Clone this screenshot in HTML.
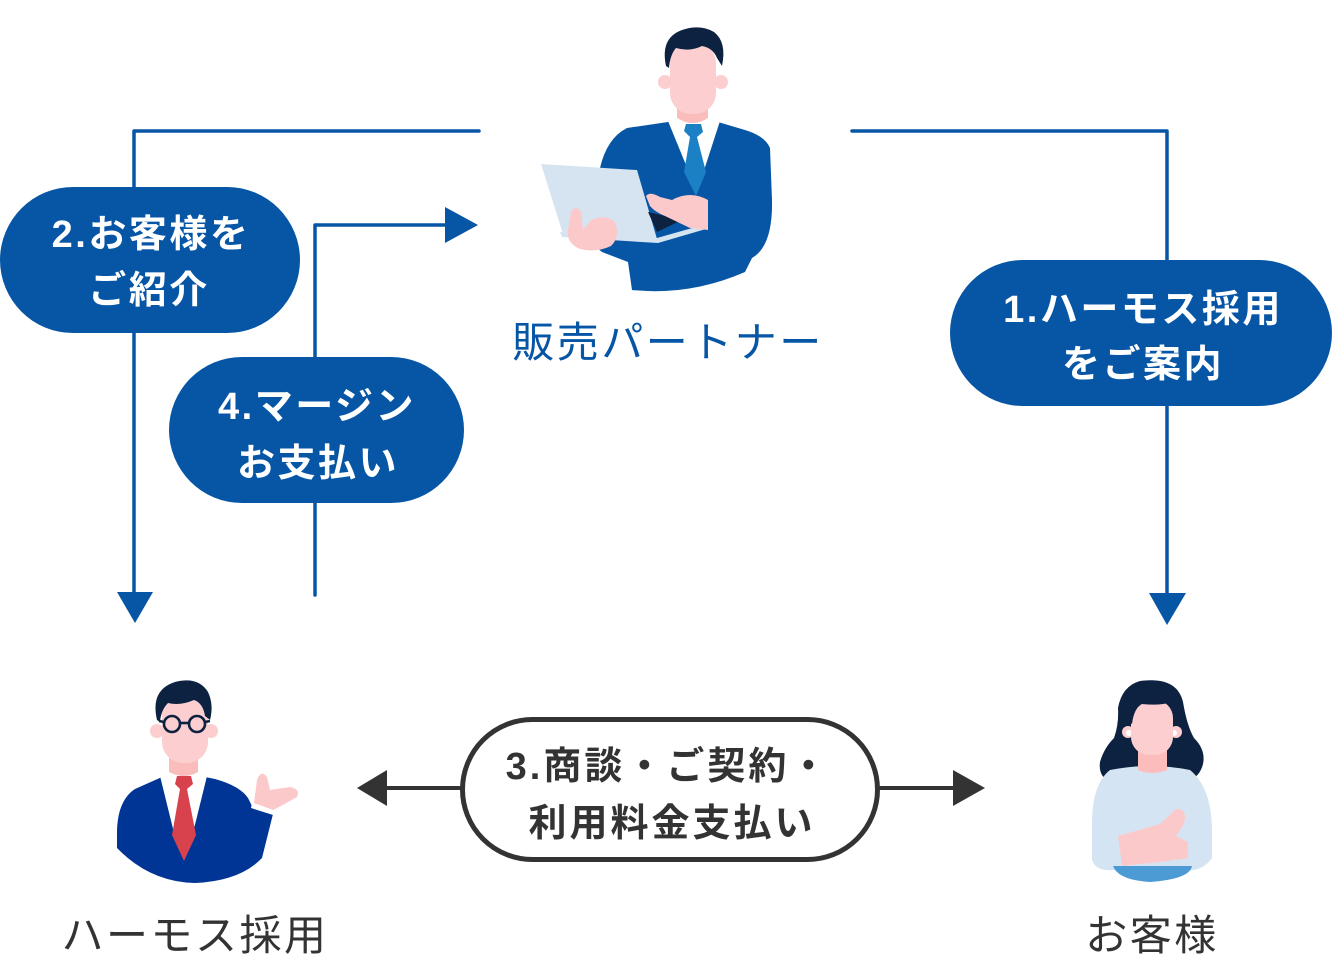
<!DOCTYPE html>
<html>
<head>
<meta charset="utf-8">
<style>
  html,body{margin:0;padding:0;background:#fff;}
  body{width:1332px;height:963px;overflow:hidden;}
  svg{display:block;}
  .w{font-family:"Liberation Sans","Noto Sans CJK JP",sans-serif;font-weight:700;fill:#fff;font-size:38px;letter-spacing:2.5px;}
  .d{font-family:"Liberation Sans","Noto Sans CJK JP",sans-serif;font-weight:700;fill:#333;font-size:38px;letter-spacing:3px;}
  .lb{font-family:"Liberation Sans","Noto Sans CJK JP",sans-serif;font-weight:400;font-size:42px;letter-spacing:2.5px;}
</style>
</head>
<body>
<svg width="1332" height="963" viewBox="0 0 1332 963" xmlns="http://www.w3.org/2000/svg">
  <!-- connectors -->
  <g fill="none" stroke="#0656a5" stroke-width="3.5" stroke-linejoin="round" stroke-linecap="round">
    <path d="M479,131 H134 V596"/>
    <path d="M852,131 H1167 V597"/>
    <path d="M315,595 V225 H448"/>
  </g>
  <g fill="#0656a5">
    <polygon points="117,592 153,592 135,623"/>
    <polygon points="1149,593 1186,593 1167,625"/>
    <polygon points="445,207 445,243 478,225"/>
  </g>

  <!-- pills -->
  <rect x="0" y="187" width="300" height="146" rx="73" fill="#0656a5"/>
  <text class="w" x="151" y="247" text-anchor="middle">2.お客様を</text>
  <text class="w" x="149" y="303" text-anchor="middle">ご紹介</text>

  <rect x="169" y="357" width="295" height="146" rx="73" fill="#0656a5"/>
  <text class="w" x="317" y="419" text-anchor="middle">4.マージン</text>
  <text class="w" x="318" y="476" text-anchor="middle">お支払い</text>

  <rect x="950" y="260" width="382" height="146" rx="73" fill="#0656a5"/>
  <text class="w" x="1143" y="322" text-anchor="middle">1.ハーモス採用</text>
  <text class="w" x="1143" y="377" text-anchor="middle">をご案内</text>

  <!-- pill 3 with arrows -->
  <g stroke="#333" stroke-width="4">
    <line x1="385" y1="788" x2="461" y2="788"/>
    <line x1="879" y1="788" x2="955" y2="788"/>
  </g>
  <polygon points="357,788 387,770 387,806" fill="#333"/>
  <polygon points="953,770 953,806 985,788" fill="#333"/>
  <rect x="462.5" y="719.5" width="415" height="140" rx="70" fill="#fff" stroke="#333" stroke-width="5"/>
  <text class="d" x="668" y="779" text-anchor="middle">3.商談・ご契約・</text>
  <text class="d" x="672" y="836" text-anchor="middle">利用料金支払い</text>

  <!-- labels -->
  <text class="lb" x="668" y="357" text-anchor="middle" fill="#0656a5">販売パートナー</text>
  <text class="lb" x="195" y="950" text-anchor="middle" fill="#333">ハーモス採用</text>
  <text class="lb" x="1152" y="950" text-anchor="middle" fill="#333">お客様</text>

  <!-- ===== Top person: partner ===== -->
  <g>
    <path d="M668,122 L627,128 Q607,138 600,168 L592,212 Q588,242 602,252 L628,262 L632,290 Q690,296 745,272 L752,258 Q773,246 772,200 L770,148 Q765,136 745,130 L718,122 Z" fill="#0656a5"/>
    <polygon points="668,121 720,121 697,192" fill="#fff"/>
    <polygon points="686,124 701,124 703,132 697,137 690,137 684,131" fill="#1b80c4"/>
    <polygon points="690,137 697,137 706,172 696,196 684,172" fill="#1b80c4"/>
    <path d="M677,100 L708,100 L708,118 Q693,128 677,118 Z" fill="#fbbcbc"/>
    <circle cx="665" cy="82" r="7" fill="#fcced0"/>
    <circle cx="721" cy="82" r="7" fill="#fcced0"/>
    <rect x="670" y="42" width="46" height="72" rx="21" fill="#fcced0"/>
    <path d="M666,66 Q660,38 682,30 Q700,24 714,32 Q727,42 722,66 L717,58 Q713,48 702,46 Q690,52 676,48 Q670,55 669,68 Z" fill="#0d2240"/>
    <polygon points="541,164 637,170 657,239 563,234" fill="#d6e4f2"/>
    <polygon points="648,212 682,220 657,232" fill="#0d2240"/>
    <polygon points="560,232 657,238 703,225 706,229 658,243 562,237" fill="#d6e4f2"/>
    <path d="M571,212 Q576,204 581,212 L583,230 L591,220 Q606,214 615,222 Q621,236 611,246 Q596,253 580,249 Q566,243 568,230 Z" fill="#fcc9cb"/>
    <path d="M708,200 L708,230 L690,228 L665,216 Q655,212 650,206 L646,196 Q650,191 660,197 L672,200 Q690,190 708,200 Z" fill="#fcc9cb"/>
  </g>

  <!-- ===== Bottom-left man: Harmos ===== -->
  <g>
    <path d="M162,777 L135,789 Q118,800 117,830 L117,848 Q150,882 195,883 Q240,881 262,858 L273,814 L252,806 L248,798 Q240,786 215,779 L205,777 Z" fill="#003595"/>
    <polygon points="160,776 207,776 190,845 177,845" fill="#fff"/>
    <polygon points="177,776 191,776 193,784 187,789 180,789 175,784" fill="#d8424d"/>
    <polygon points="180,789 187,789 196,835 184,861 172,835" fill="#d8424d"/>
    <polygon points="252,802 275,809 273,815 251,808" fill="#fff"/>
    <path d="M254,803 L257,780 Q261,769 267,777 L270,790 L290,787 Q301,789 297,797 L281,806 L273,810 Z" fill="#fcc9cb"/>
    <path d="M169,750 L198,750 L198,772 Q184,780 169,772 Z" fill="#fbbcbc"/>
    <circle cx="157" cy="731" r="7" fill="#fcced0"/>
    <circle cx="211" cy="731" r="7" fill="#fcced0"/>
    <rect x="162" y="692" width="46" height="71" rx="21" fill="#fcced0"/>
    <path d="M157,720 Q150,690 175,682 Q198,676 208,692 Q214,705 210,720 L205,716 Q203,703 194,700 Q180,706 168,703 Q161,710 160,722 Z" fill="#0d2240"/>
    <g fill="none" stroke="#0d2240" stroke-width="2.6">
      <circle cx="172" cy="724" r="8"/>
      <circle cx="197" cy="724" r="8"/>
      <line x1="180" y1="723" x2="189" y2="723"/>
      <line x1="164" y1="722" x2="159" y2="721"/>
      <line x1="205" y1="722" x2="210" y2="721"/>
    </g>
  </g>

  <!-- ===== Bottom-right woman: customer ===== -->
  <g>
    <path d="M1140,681 Q1177,676 1183,702 Q1187,726 1194,738 Q1206,750 1203,764 Q1200,776 1190,780 L1110,782 Q1098,776 1100,762 Q1104,748 1114,738 Q1119,724 1118,708 Q1122,686 1140,681 Z" fill="#0d2240"/>
    <path d="M1110,770 Q1150,762 1190,770 Q1212,788 1212,832 L1212,858 Q1202,872 1186,870 L1115,870 Q1096,872 1092,860 L1092,824 Q1092,784 1110,770 Z" fill="#d5e4f3"/>
    <path d="M1113,866 L1192,866 Q1190,879 1150,882 Q1118,880 1113,866 Z" fill="#4c9bd5"/>
    <path d="M1118,836 L1160,824 L1176,809 Q1188,808 1184,824 L1176,836 L1188,842 L1188,858 L1160,862 L1122,866 Z" fill="#fcc9cb"/>
    <path d="M1138,748 L1167,748 L1167,770 Q1152,776 1138,770 Z" fill="#fbbcbc"/>
    <circle cx="1128" cy="732" r="6" fill="#fcced0"/>
    <circle cx="1176" cy="732" r="6" fill="#fcced0"/>
    <circle cx="1129" cy="733" r="3" fill="#fff"/>
    <circle cx="1174" cy="733" r="3" fill="#fff"/>
    <rect x="1131" y="700" width="42" height="55" rx="18" fill="#fcced0"/>
    <path d="M1129,722 Q1126,688 1152,686 Q1176,686 1174,712 L1172,702 Q1160,706 1142,704 Q1134,708 1132,724 Z" fill="#0d2240"/>
  </g>
</svg>
</body>
</html>
